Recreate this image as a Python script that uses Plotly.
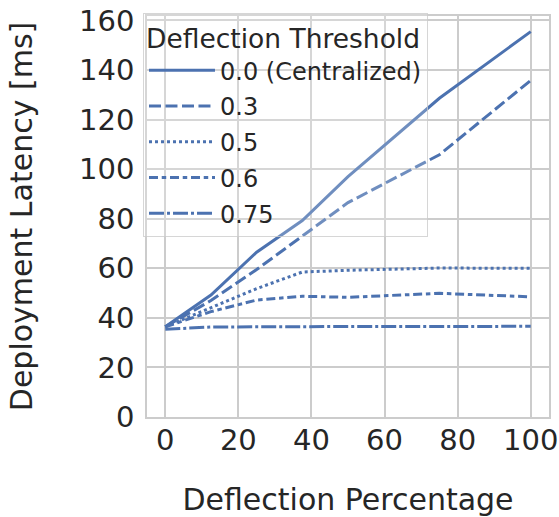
import plotly.graph_objects as go

# Data
deflection_pct = [0, 12.5, 25, 37.5, 50, 75, 100]
thresholds = ["0.0 (Centralized)", "0.3", "0.5", "0.6", "0.75"]
lat_00 = [36.4, 49.2, 66.5, 79.3, 97.0, 128.6, 155.5]
lat_03 = [36.4, 47.0, 59.5, 73.0, 86.5, 105.8, 135.8]
lat_05 = [36.4, 44.0, 51.8, 58.5, 59.2, 60.1, 60.0]
lat_06 = [36.4, 42.5, 47.2, 48.7, 48.3, 49.9, 48.5]
lat_075 = [35.4, 36.3, 36.4, 36.6, 36.5, 36.5, 36.6]

series = [lat_00, lat_03, lat_05, lat_06, lat_075]
dashes = ["solid", "12px,4.5px", "3px,3px", "9px,3.75px,4.5px,3.75px", "15px,3px,3px,3px"]
color = "#4C72B0"
FONT = "DejaVu Sans"
TXT = "#262626"
GRID = "#cccccc"

fig = go.Figure()
for i, (name, ys, d) in enumerate(zip(thresholds, series, dashes)):
    fig.add_trace(go.Scatter(
        x=deflection_pct, y=ys, mode="lines", name=name,
        legendgroup=f"g{i}",
        line=dict(color=color, width=3, dash=d),
    ))

fig.update_layout(
    width=559, height=517,
    margin=dict(l=147, r=10, t=16, b=100, autoexpand=False),
    paper_bgcolor="white", plot_bgcolor="white",
    font=dict(family=FONT, color=TXT, size=24),
    showlegend=True,
    legend=dict(
        x=-0.01, y=1.008, xanchor="left", yanchor="top",
        bgcolor="rgba(255,255,255,0.2)",
        bordercolor="rgba(204,204,204,0.8)", borderwidth=1,
        font=dict(family=FONT, size=24, color=TXT),
        title=dict(text="Deflection Threshold", font=dict(family=FONT, size=26.5, color=TXT)),
        tracegroupgap=1.5,
        traceorder="grouped",
        itemwidth=66,
    ),
    xaxis=dict(
        range=[-5, 105], tickvals=[0, 20, 40, 60, 80, 100],
        showgrid=True, gridcolor=GRID, gridwidth=1.5,
        showline=True, linecolor=GRID, linewidth=1.5, mirror=True,
        zeroline=False, automargin=False,
        ticks="", ticklabelstandoff=-4,
        tickfont=dict(family=FONT, size=29, color=TXT),
        title=dict(text="Deflection Percentage", font=dict(family=FONT, size=30, color=TXT), standoff=34),
    ),
    yaxis=dict(
        range=[0, 161.8], tickvals=[0, 20, 40, 60, 80, 100, 120, 140, 160],
        showgrid=True, gridcolor=GRID, gridwidth=1.5,
        showline=True, linecolor=GRID, linewidth=1.5, mirror=True,
        zeroline=False, automargin=False,
        ticks="", ticklabelstandoff=5,
        tickfont=dict(family=FONT, size=29, color=TXT),
        title=dict(text="Deployment Latency [ms]", font=dict(family=FONT, size=30, color=TXT), standoff=38),
    ),
)

fig.write_html("out.html")
